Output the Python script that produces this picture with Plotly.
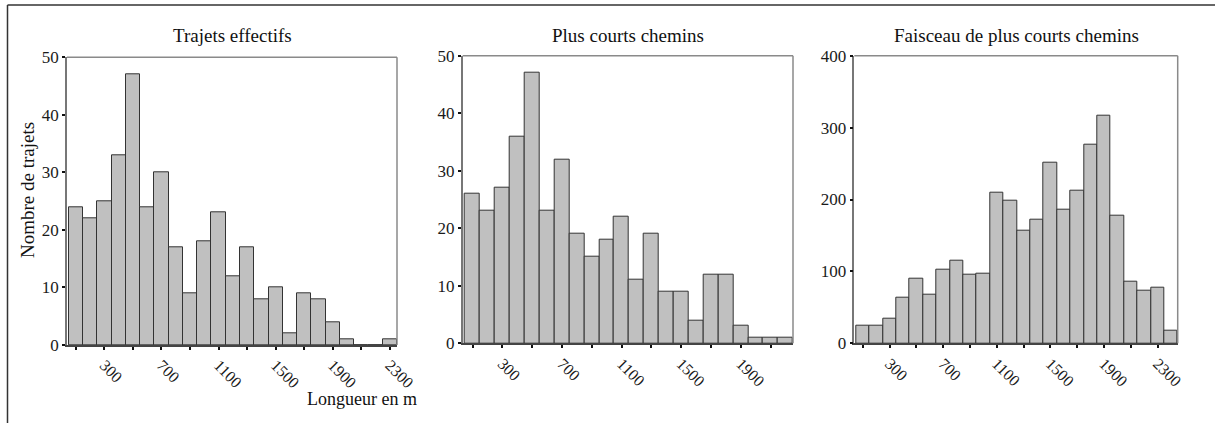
import plotly.graph_objects as go

# ---- data ----
titles = ["Trajets effectifs", "Plus courts chemins", "Faisceau de plus courts chemins"]

bins1 = [100, 200, 300, 400, 500, 600, 700, 800, 900, 1000, 1100, 1200,
         1300, 1400, 1500, 1600, 1700, 1800, 1900, 2000, 2100, 2200, 2300]
counts1 = [24, 22, 25, 33, 47, 24, 30, 17, 9, 18, 23, 12,
           17, 8, 10, 2, 9, 8, 4, 1, 0, 0, 1]

bins2 = [100, 200, 300, 400, 500, 600, 700, 800, 900, 1000, 1100, 1200,
         1300, 1400, 1500, 1600, 1700, 1800, 1900, 2000, 2100, 2200]
counts2 = [26, 23, 27, 36, 47, 23, 32, 19, 15, 18, 22, 11,
           19, 9, 9, 4, 12, 12, 3, 1, 1, 1]

bins3 = [100, 200, 300, 400, 500, 600, 700, 800, 900, 1000, 1100, 1200,
         1300, 1400, 1500, 1600, 1700, 1800, 1900, 2000, 2100, 2200, 2300, 2400]
counts3 = [25, 25, 34, 63, 90, 68, 102, 115, 95, 97, 209, 199,
           157, 172, 251, 186, 212, 276, 317, 178, 85, 73, 77, 17]

tickvals1 = [100, 300, 500, 700, 900, 1100, 1300, 1500, 1700, 1900, 2100, 2300]
ticktext1 = ["", "300", "", "700", "", "1100", "", "1500", "", "1900", "", "2300"]
tickvals2 = [100, 300, 500, 700, 900, 1100, 1300, 1500, 1700, 1900, 2100]
ticktext2 = ["", "300", "", "700", "", "1100", "", "1500", "", "1900", ""]
tickvals3 = tickvals1
ticktext3 = ticktext1

yticks12 = [0, 10, 20, 30, 40, 50]
yticks3 = [0, 100, 200, 300, 400]

x_title = "Longueur en m"
y_title = "Nombre de trajets"

# ---- layout geometry (pixels in a 1215x423 page) ----
W, H = 1215, 423
FONT = "Liberation Serif, Times New Roman, serif"

def px_x(v):
    return v / W

def px_y(v):
    return 1 - v / H

panels = [
    dict(bins=bins1, counts=counts1, tv=tickvals1, tt=ticktext1, yt=yticks12,
         xr=[38, 2350], yr=[0, 50], x0=67, x1=397, ytop=57.3, ybot=345),
    dict(bins=bins2, counts=counts2, tv=tickvals2, tt=ticktext2, yt=yticks12,
         xr=[34, 2250], yr=[0, 50], x0=462.7, x1=793, ytop=55.7, ybot=343.3),
    dict(bins=bins3, counts=counts3, tv=tickvals3, tt=ticktext3, yt=yticks3,
         xr=[37, 2450], yr=[0, 400], x0=854.3, x1=1177.7, ytop=55.7, ybot=343.3),
]

fig = go.Figure()
layout = dict(
    width=W, height=H,
    margin=dict(l=0, r=0, t=0, b=0, pad=0),
    paper_bgcolor="white", plot_bgcolor="white",
    showlegend=False, bargap=0,
    font=dict(family=FONT, size=15, color="#1a1a1a"),
)
annotations = []
shapes = []

for i, p in enumerate(panels):
    n = "" if i == 0 else str(i + 1)
    xa, ya = "x" + n, "y" + n
    fig.add_trace(go.Bar(
        x=p["bins"], y=p["counts"], xaxis=xa, yaxis=ya,
        width=100,
        marker=dict(color="#c0c0c0", line=dict(color="#333333", width=1)),
        hoverinfo="x+y",
    ))
    layout["xaxis" + n] = dict(
        domain=[px_x(p["x0"]), px_x(p["x1"])], anchor=ya, automargin=False,
        range=p["xr"], tickmode="array", tickvals=p["tv"], ticktext=p["tt"],
        tickangle=45, ticks="outside", ticklen=3, tickwidth=2, tickcolor="#111",
        showgrid=False, zeroline=False, showline=True, linecolor="#444", linewidth=1.5,
        mirror=False, tickfont=dict(size=16, family=FONT),
    )
    layout["yaxis" + n] = dict(
        domain=[px_y(p["ybot"]), px_y(p["ytop"])], anchor=xa, automargin=False,
        range=p["yr"], tickmode="array", tickvals=p["yt"],
        ticks="outside", ticklen=3, tickwidth=2, tickcolor="#111",
        showgrid=False, zeroline=False, showline=True, linecolor="#777", linewidth=1.5,
        tickfont=dict(size=17, family=FONT),
    )
    # top and right frame lines (gray)
    shapes.append(dict(type="line", xref=xa + " domain", yref=ya + " domain",
                       x0=0, x1=1, y0=1, y1=1, line=dict(color="#8a8a8a", width=1.5)))
    shapes.append(dict(type="line", xref=xa + " domain", yref=ya + " domain",
                       x0=1, x1=1, y0=0, y1=1, line=dict(color="#8a8a8a", width=1.5)))
    annotations.append(dict(
        text=titles[i], xref=xa + " domain", yref="paper",
        x=0.5, y=px_y(35), xanchor="center", yanchor="middle",
        showarrow=False, font=dict(size=19, family=FONT, color="#111"),
    ))

annotations.append(dict(
    text=y_title, xref="paper", yref="paper", x=px_x(27), y=px_y(190),
    xanchor="center", yanchor="middle", textangle=-90, showarrow=False,
    font=dict(size=19, family=FONT, color="#111"),
))
annotations.append(dict(
    text=x_title, xref="paper", yref="paper", x=px_x(362), y=px_y(399),
    xanchor="center", yanchor="middle", showarrow=False,
    font=dict(size=18, family=FONT, color="#111"),
))

# outer frame: top and left lines
shapes.append(dict(type="line", xref="paper", yref="paper",
                   x0=px_x(7.5), x1=1, y0=px_y(5), y1=px_y(5),
                   line=dict(color="#333", width=1.5)))
shapes.append(dict(type="line", xref="paper", yref="paper",
                   x0=px_x(7.5), x1=px_x(7.5), y0=0, y1=px_y(5),
                   line=dict(color="#333", width=1.5)))

layout["annotations"] = annotations
layout["shapes"] = shapes
fig.update_layout(**layout)

fig.write_html("out.html", config={"displayModeBar": False},
               post_script="document.documentElement.style.margin='0';"
                           "document.body.style.margin='0';document.body.style.overflow='hidden';")
